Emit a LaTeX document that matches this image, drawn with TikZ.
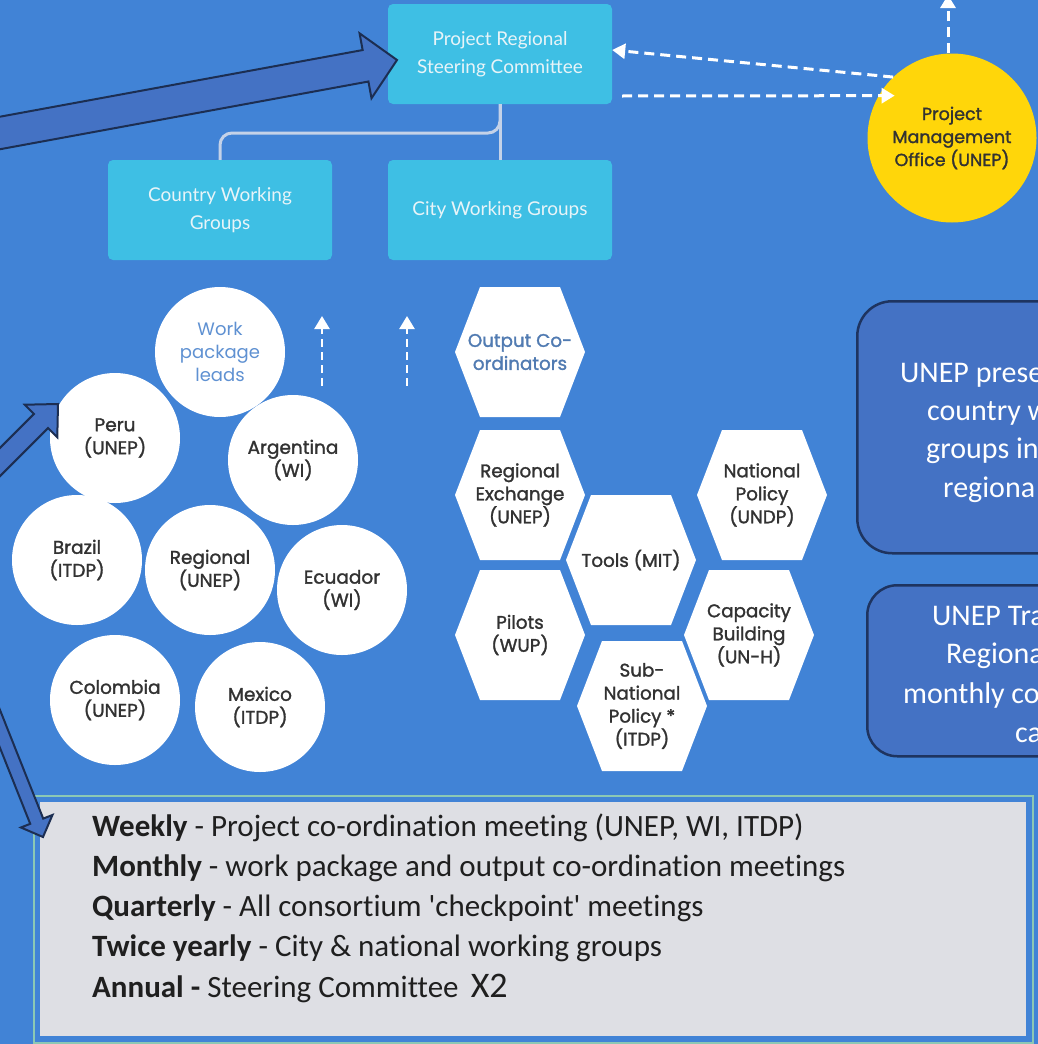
\documentclass[tikz,border=0pt]{standalone}
\usepackage{fontspec}
\setmainfont[Ligatures=NoCommon]{Carlito}
\newfontfamily\popf[FakeBold=1.5]{Poppins}
\newfontfamily\poplight{Poppins}
\newfontfamily\latof{Lato}
\newfontfamily\calf[Ligatures=NoCommon]{Carlito}
\usetikzlibrary{arrows.meta,calc}
\definecolor{bgblue}{RGB}{65,131,214}
\definecolor{cyanbox}{RGB}{62,191,228}
\definecolor{blockfill}{RGB}{68,114,196}
\definecolor{blockline}{RGB}{28,46,82}
\definecolor{connc}{RGB}{196,210,232}
\definecolor{pmoc}{RGB}{255,214,10}
\definecolor{darktext}{RGB}{50,50,50}
\definecolor{lbtext}{RGB}{95,145,210}
\definecolor{panelgray}{RGB}{222,223,228}
\definecolor{panelline}{RGB}{140,200,180}
\definecolor{cyantext}{RGB}{232,244,248}
\definecolor{rboxline}{RGB}{30,52,96}
\newcommand\blockarr[5]{%
  \coordinate (hb) at ($(#2)!#4!(#1)$);
  \draw[blockarrow] ($(#1)!#3!90:(#2)$) -- ($(hb)!#3!-90:(#1)$) -- ($(hb)!#5!-90:(#1)$) -- (#2)
    -- ($(hb)!#5!90:(#1)$) -- ($(hb)!#3!90:(#1)$) -- ($(#1)!#3!-90:(#2)$) -- cycle;}
\begin{document}
\begin{tikzpicture}[x=1pt,y=-1pt,
  cbox/.style={fill=cyanbox, rounded corners=5pt, minimum width=224pt, minimum height=100pt,
    inner sep=0pt, text=cyantext, font=\latof\fontsize{19}{28}\selectfont, align=center},
  circ/.style={circle, fill=white, minimum size=130pt, inner sep=0pt, text=darktext,
    font=\popf\fontsize{18.5}{23}\selectfont, align=center},
  hexnode/.style={minimum width=130pt, minimum height=130pt, inner sep=0pt, text=darktext,
    font=\popf\fontsize{18.3}{23}\selectfont, align=center,
    path picture={\fill[white] (path picture bounding box.west)
      -- ([xshift=25pt]path picture bounding box.north west)
      -- ([xshift=-25pt]path picture bounding box.north east)
      -- (path picture bounding box.east)
      -- ([xshift=-25pt]path picture bounding box.south east)
      -- ([xshift=25pt]path picture bounding box.south west) -- cycle;}},
  wdash/.style={draw=white, line width=3pt, dash pattern=on 10pt off 6pt,
    -{Triangle[width=15pt,length=13pt]}},
  blockarrow/.style={fill=blockfill, draw=blockline, line width=2pt, line join=miter},
  connline/.style={draw=connc, line width=3pt},
  rbox/.style={fill=blockfill, draw=rboxline, line width=2.5pt, anchor=north west},
  rtext/.style={anchor=base west, inner sep=0pt, text=white, font=\calf\fontsize{30}{38}\selectfont},
  btext/.style={anchor=base west, inner sep=0pt, text=black!88, font=\calf\fontsize{31}{40}\selectfont}
]
\useasboundingbox (0,0) rectangle (1038,1044);
\clip (0,0) rectangle (1038,1044);
\fill[bgblue] (0,0) rectangle (1038,1044);

% top structure
\node[cbox] (prsc) at (500,54) {Project Regional\\Steering Committee};
\node[cbox] (cwg) at (220,210) {Country Working\\Groups};
\node[cbox] (ciwg) at (500,210) {City Working Groups};
\draw[connline, rounded corners=12pt] (cwg.north) |- (prsc.south |- 0,133) -- (prsc.south);
\draw[connline] (prsc.south) -- (ciwg.north);

% PMO
\node[circle, fill=pmoc, minimum size=169pt, inner sep=0pt, text=darktext,
  font=\popf\fontsize{17.5}{23}\selectfont, align=center] (pmo) at (952,138)
  {Project\\Management\\Office (UNEP)};
\coordinate (topout) at (948,-5);
\draw[wdash] (pmo.134) -- ([yshift=4pt]prsc.east);
\draw[wdash] ([xshift=10pt,yshift=-42pt]prsc.east) -- ([xshift=16pt]pmo.150);
\draw[wdash] ([xshift=-4pt]pmo.north) -- (topout);

% circles
\node[circ, text=lbtext, font=\poplight\fontsize{18}{23}\selectfont] (wpl) at (220,352) {Work\\package\\leads};
\node[circ] (peru) at (115,438) {Peru\\(UNEP)};
\node[circ] (arg) at (293,460) {Argentina\\(WI)};
\node[circ] (bra) at (77,560) {Brazil\\(ITDP)};
\node[circ] (reg) at (210,570) {Regional\\(UNEP)};
\node[circ] (ecu) at (342,590) {Ecuador\\(WI)};
\node[circ] (col) at (115,700) {Colombia\\(UNEP)};
\node[circ] (mex) at (260,707) {Mexico\\(ITDP)};

% small up arrows
\coordinate (u1s) at (322,386); \coordinate (u1e) at (322,316);
\coordinate (u2s) at (407,386); \coordinate (u2e) at (407,316);
\draw[wdash, line width=2.5pt, dash pattern=on 8pt off 5pt] (u1s) -- (u1e);
\draw[wdash, line width=2.5pt, dash pattern=on 8pt off 5pt] (u2s) -- (u2e);

% hexagons
\node[hexnode, text=lbtext!85!black] (oc) at (520,352) {Output Co-\\ordinators};
\node[hexnode] (rex) at (520,495) {Regional\\Exchange\\(UNEP)};
\node[hexnode] (tools) at (631,560) {Tools (MIT)};
\node[hexnode] (np) at (762,495) {National\\Policy\\(UNDP)};
\node[hexnode] (pil) at (520,635) {Pilots\\(WUP)};
\node[hexnode] (cap) at (749,635) {Capacity\\Building\\(UN-H)};
\node[hexnode] (snp) at (642,706) {Sub-\\National\\Policy *\\(ITDP)};

% right text boxes
\node[rbox, minimum width=260pt, minimum height=252pt, rounded corners=35pt] (boxa) at (856,300) {};
\node[rtext] (a1) at (900,382) {UNEP prese};
\node[rtext] (a2) at (927,420) {country w};
\node[rtext] (a3) at (926,458) {groups in};
\node[rtext] (a4) at (943,497) {regiona};
\node[rbox, minimum width=260pt, minimum height=171pt, rounded corners=30pt] (boxb) at (866,584) {};
\node[rtext] (b1) at (932,625) {UNEP Tra};
\node[rtext] (b2) at (946,663) {Regiona};
\node[rtext] (b3) at (903,703) {monthly co};
\node[rtext] (b4) at (1015,742) {ca};

% bottom panel
\node[draw=panelline, line width=1.5pt, minimum width=999pt, minimum height=247pt, anchor=north west, inner sep=0pt] (frame) at (33,795) {};
\node[fill=panelgray, minimum width=986pt, minimum height=234pt, anchor=north west, inner sep=0pt] (panel) at (40,802) {};
\node[btext] (l1) at (92,836) {\textbf{Weekly} - Project co-ordination meeting (UNEP, WI, ITDP)};
\node[btext] (l2) at (92,876) {\textbf{Monthly} - work package and output co-ordination meetings};
\node[btext] (l3) at (92,916) {\textbf{Quarterly} - All consortium 'checkpoint' meetings};
\node[btext] (l4) at (92,956) {\textbf{Twice yearly} - City \& national working groups};
\node[btext] (l5) at (92,997) {\textbf{Annual -} Steering Committee \,{\fontsize{36}{40}\selectfont X2}};

% block arrows
\coordinate (t1) at (-60,144); \coordinate (h1) at (397,60);
\blockarr{t1}{h1}{16pt}{32pt}{33pt}
\coordinate (t2) at (-40,502); \coordinate (h2) at (58,404);
\blockarr{t2}{h2}{10pt}{24pt}{23pt}
\coordinate (t3) at (-31,651); \coordinate (h3) at (43,837);
\blockarr{t3}{h3}{7pt}{17pt}{17pt}
\end{tikzpicture}
\end{document}
